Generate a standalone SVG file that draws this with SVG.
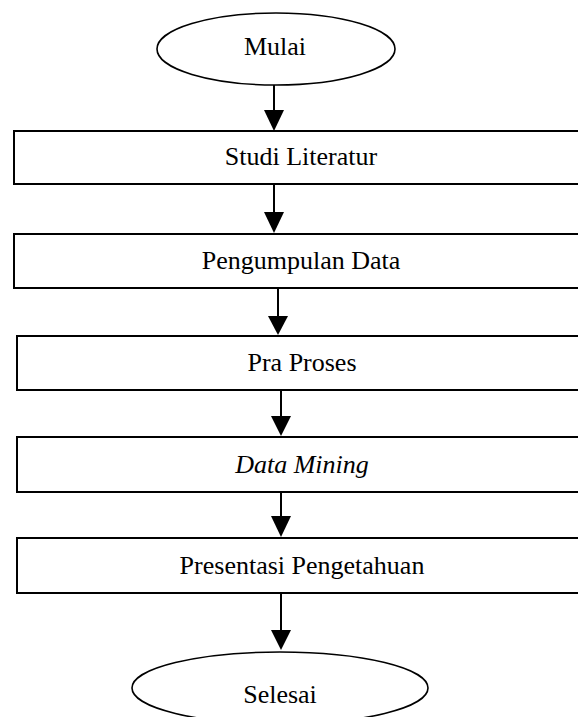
<svg xmlns="http://www.w3.org/2000/svg" width="578" height="717" viewBox="0 0 578 717">
<style>
.box{fill:#fff;stroke:#000;stroke-width:2}
.term{fill:#fff;stroke:#000;stroke-width:1.6}
.lbl{font-family:"Liberation Serif","Times New Roman",serif;font-size:26px;fill:#000;text-anchor:middle}
.edge{stroke:#000;stroke-width:2;fill:none}
.head{fill:#000}
</style>
<rect width="578" height="717" fill="#fff"/>
<g id="mulai">
<ellipse class="term" cx="276" cy="49" rx="119" ry="36"/>
<text class="lbl" x="275" y="55">Mulai</text>
</g>
<g id="studi-literatur">
<rect class="box" x="14" y="131" width="574" height="53"/>
<text class="lbl" x="301" y="165">Studi Literatur</text>
</g>
<g id="pengumpulan-data">
<rect class="box" x="14" y="234" width="574" height="54"/>
<text class="lbl" x="301" y="269">Pengumpulan Data</text>
</g>
<g id="pra-proses">
<rect class="box" x="17" y="336" width="571" height="54"/>
<text class="lbl" x="302" y="371">Pra Proses</text>
</g>
<g id="data-mining">
<rect class="box" x="17" y="437" width="571" height="55"/>
<text class="lbl" x="302" y="473" font-style="italic">Data Mining</text>
</g>
<g id="presentasi-pengetahuan">
<rect class="box" x="17" y="538" width="571" height="55"/>
<text class="lbl" x="302" y="574">Presentasi Pengetahuan</text>
</g>
<g id="selesai">
<ellipse class="term" cx="280" cy="688" rx="148" ry="36"/>
<text class="lbl" x="280" y="703">Selesai</text>
</g>
<g id="connectors">
<line class="edge" x1="274" y1="85" x2="274" y2="112"/>
<polygon class="head" points="264,110 284,110 274,131"/>
<line class="edge" x1="274" y1="184" x2="274" y2="214"/>
<polygon class="head" points="264,212 284,212 274,233"/>
<line class="edge" x1="278" y1="288" x2="278" y2="318"/>
<polygon class="head" points="268,316 288,316 278,335"/>
<line class="edge" x1="281" y1="390" x2="281" y2="418"/>
<polygon class="head" points="271,416 291,416 281,436"/>
<line class="edge" x1="281" y1="492" x2="281" y2="518"/>
<polygon class="head" points="271,516 291,516 281,537"/>
<line class="edge" x1="281" y1="593" x2="281" y2="632"/>
<polygon class="head" points="271,630 291,630 281,650"/>
</g>
</svg>
